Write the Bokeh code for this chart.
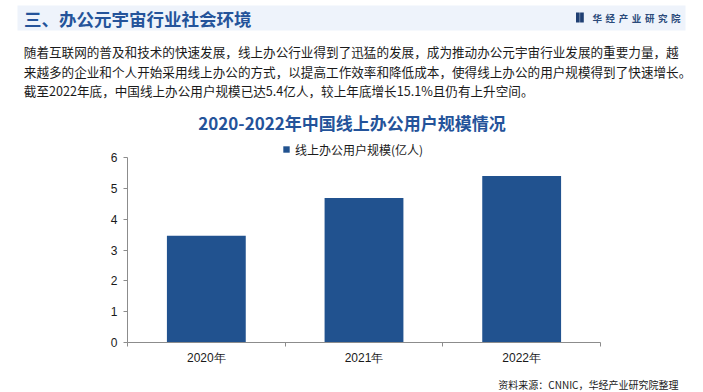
from bokeh.plotting import figure
from bokeh.models import Range1d, FixedTicker, Legend, LegendItem, LinearAxis
from bokeh.core.properties import value
from bokeh.embed import file_html
from bokeh.resources import INLINE

# ---------------- data ----------------
years = ["2020年", "2021年", "2022年"]
users = [3.46, 4.69, 5.40]
y_ticks = [0, 1, 2, 3, 4, 5, 6]
series_name = "线上办公用户规模(亿人)"
header_title = "三、办公元宇宙行业社会环境"
chart_title = "2020-2022年中国线上办公用户规模情况"
paragraph = [
    "随着互联网的普及和技术的快速发展，线上办公行业得到了迅猛的发展，成为推动办公元宇宙行业发展的重要力量，越",
    "来越多的企业和个人开始采用线上办公的方式，以提高工作效率和降低成本，使得线上办公的用户规模得到了快速增长。",
    "截至2022年底，中国线上办公用户规模已达5.4亿人，较上年底增长15.1%且仍有上升空间。",
]
source_note = "资料来源：CNNIC，华经产业研究院整理"
brand = "华经产业研究院"

# ---------------- layout (page pixels) ----------------
W, H = 703, 392
AX_L, AX_R = 127, 600      # x-axis extent
AX_B, AX_T = 342, 157      # y = 0 and y = max tick

n = len(years)
ux = (AX_R - AX_L) / n
x_start = -AX_L / ux
x_end = n + (W - AX_R) / ux
ymax = y_ticks[-1]
uy = (AX_B - AX_T) / ymax
y_start = -(H - AX_B) / uy
y_end = ymax + AX_T / uy

# ---------------- styles ----------------
CJK_NAME = "Noto Sans CJK SC"
CJK = value(CJK_NAME)
LAT_NAME = "Liberation Sans"
BLUE = "#21528F"
TITLE_BLUE = "#24539A"
AXIS_GRAY = "#8c8c8c"
TEXT = "#1a1a1a"

p = figure(width=W, height=H, x_range=Range1d(x_start, x_end), y_range=Range1d(y_start, y_end),
           output_backend="svg", toolbar_location=None,
           x_axis_type=None, y_axis_type=None,
           min_border_left=0, min_border_right=0, min_border_top=0, min_border_bottom=0)
p.outline_line_color = None
p.background_fill_color = "white"
p.border_fill_color = "white"
p.extra_x_ranges = {"px": Range1d(0, W)}
p.extra_y_ranges = {"px": Range1d(H, 0)}
PX = dict(x_range_name="px", y_range_name="px")

# ---------------- header, paragraph, chart title ----------------
p.quad(left=17, right=685, top=5, bottom=30, fill_color="#EEF3FB", line_color=None, **PX)
p.text(x=[23.5], y=[18], text=[header_title], text_font=CJK, text_font_size="17.5px",
       text_font_style="bold", text_color=TITLE_BLUE, text_baseline="middle", text_align="left", **PX)
p.quad(left=[575.5, 579.6], right=[579.2, 583.3], top=[12, 12], bottom=[22, 22],
       fill_color="#1F3F73", line_color=None, **PX)
brand_x = [592 + 13.1 * i for i in range(len(brand))]
p.text(x=brand_x, y=[17] * len(brand), text=list(brand), text_font=CJK, text_font_size="9.5px",
       text_font_style="bold", text_color="#2B4A7A", text_baseline="middle", text_align="left", **PX)
p.text(x=[23.3, 23.3, 23.3], y=[51, 70.5, 89.5], text=paragraph, text_font=CJK, text_font_size="12.6px",
       text_color=TEXT, text_baseline="middle", text_align="left", **PX)
p.text(x=[351.5], y=[122], text=[chart_title], text_font=CJK, text_font_size="17px",
       text_font_style="bold", text_color=TITLE_BLUE, text_baseline="middle", text_align="center", **PX)
p.text(x=[678], y=[383.5], text=[source_note], text_font=CJK, text_font_size="10px",
       text_color=TEXT, text_baseline="middle", text_align="right", **PX)

# ---------------- bars ----------------
centers = [i + 0.5 for i in range(n)]
bounds_ticks = [float(i) for i in range(n + 1)]
r = p.vbar(x=centers, top=users, width=0.5, fill_color=BLUE, line_color=None)

yax = LinearAxis(fixed_location=0, bounds=(y_ticks[0], ymax), ticker=FixedTicker(ticks=y_ticks))
yax.axis_line_color = AXIS_GRAY
yax.major_tick_line_color = AXIS_GRAY
yax.major_tick_out = 4
yax.major_tick_in = 0
yax.minor_tick_line_color = None
yax.major_label_standoff = 6
yax.major_label_text_font = LAT_NAME
yax.major_label_text_font_size = "12px"
yax.major_label_text_color = TEXT
p.add_layout(yax, "left")

xax = LinearAxis(fixed_location=0, bounds=(0, n),
                 ticker=FixedTicker(ticks=centers, minor_ticks=bounds_ticks))
xax.major_label_overrides = {c: lab for c, lab in zip(centers, years)}
xax.axis_line_color = AXIS_GRAY
xax.major_tick_line_color = None
xax.major_tick_out = 0
xax.major_tick_in = 0
xax.minor_tick_line_color = AXIS_GRAY
xax.minor_tick_out = 4
xax.minor_tick_in = 0
xax.major_label_standoff = 4
xax.major_label_text_font = LAT_NAME
xax.major_label_text_font_size = "12px"
xax.major_label_text_color = TEXT
p.add_layout(xax, "below")

legend = Legend(items=[LegendItem(label=series_name, renderers=[r])],
                location=(282, H - 159), orientation="horizontal",
                padding=0, margin=0, spacing=0,
                border_line_color=None, background_fill_alpha=0,
                glyph_width=8, glyph_height=8, label_standoff=5, label_height=20,
                label_text_font=CJK_NAME, label_text_font_size="12px", label_text_color=TEXT)
p.add_layout(legend)

open("out.html", "w").write(file_html(p, INLINE))
